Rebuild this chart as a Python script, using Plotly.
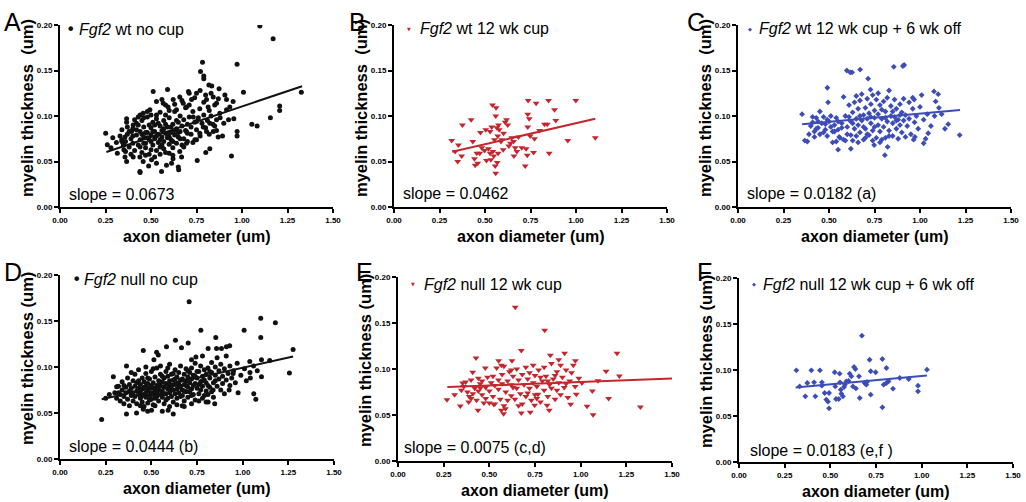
import plotly.graph_objects as go

# ---------------- data ----------------
x_ticks = [0, 0.25, 0.5, 0.75, 1.0, 1.25, 1.5]
x_tick_labels = ["0.00", "0.25", "0.50", "0.75", "1.00", "1.25", "1.50"]
y_ticks = [0, 0.05, 0.10, 0.15, 0.20]
y_tick_labels = ["0.00", "0.05", "0.10", "0.15", "0.20"]

panel_letters = ["A", "B", "C", "D", "E", "F"]
genotypes = ["wt", "wt", "wt", "null", "null", "null"]
conditions = ["no cup", "12 wk cup", "12 wk cup + 6 wk off",
              "no cup", "12 wk cup", "12 wk cup + 6 wk off"]
slopes = [0.0673, 0.0462, 0.0182, 0.0444, 0.0075, 0.0183]
slope_notes = ["", "", " (a)", " (b)", " (c,d)", " (e,f )"]
intercepts = [0.0432, 0.0459, 0.0844, 0.0548, 0.0783, 0.0753]
fit_x_start = [0.255, 0.32, 0.352, 0.228, 0.27, 0.31]
fit_x_end = [1.33, 1.106, 1.22, 1.276, 1.50, 1.029]

a_points = [
    (0.251, 0.081), (0.26, 0.0685), (0.315, 0.059), (1.098, 0.199), (1.171, 0.185), (0.973, 0.157),
    (0.783, 0.159), (0.772, 0.149), (0.79, 0.144), (0.79, 0.141), (0.591, 0.129), (0.512, 0.127),
    (0.706, 0.127), (1.008, 0.126), (1.326, 0.126), (0.71, 0.125), (0.818, 0.134), (0.834, 0.133),
    (0.874, 0.130), (1.207, 0.111), (1.207, 0.106), (1.156, 0.098), (0.955, 0.097), (0.926, 0.096),
    (1.054, 0.091), (1.083, 0.089), (0.973, 0.083), (0.973, 0.078), (0.893, 0.078), (0.942, 0.056),
    (0.754, 0.051), (0.65, 0.044), (0.652, 0.041), (0.439, 0.039), (0.558, 0.039), (0.487, 0.045),
    (0.44, 0.038), (0.801, 0.06), (0.823, 0.064), (0.869, 0.077), (0.842, 0.083), (0.951, 0.116),
    (0.915, 0.118), (0.906, 0.123), (0.842, 0.121), (0.86, 0.114), (0.805, 0.118), (0.814, 0.110),
    (0.768, 0.108), (0.732, 0.099), (0.75, 0.094), (0.787, 0.088), (0.823, 0.092), (0.86, 0.096),
    (0.878, 0.103), (0.915, 0.107), (0.933, 0.110), (0.805, 0.083), (0.85, 0.089), (0.768, 0.081),
    (0.695, 0.083), (0.741, 0.074), (0.695, 0.070), (0.658, 0.061), (0.668, 0.055), (0.613, 0.048),
    (0.585, 0.046), (0.621, 0.053), (0.53, 0.048), (0.503, 0.052), (0.457, 0.050), (0.439, 0.055),
    (0.402, 0.055), (0.366, 0.050), (0.357, 0.055), (0.351, 0.063), (0.348, 0.068), (0.339, 0.074),
    (0.357, 0.077), (0.366, 0.097), (0.366, 0.093), (0.402, 0.090), (0.393, 0.083), (0.43, 0.099),
    (0.457, 0.103), (0.494, 0.107), (0.53, 0.116), (0.567, 0.114), (0.594, 0.110), (0.622, 0.118),
    (0.658, 0.121), (0.677, 0.114), (0.64, 0.107), (0.695, 0.110), (0.723, 0.118), (0.75, 0.125),
    (0.36, 0.072), (0.37, 0.080), (0.38, 0.066), (0.39, 0.075), (0.40, 0.086), (0.40, 0.070),
    (0.41, 0.062), (0.42, 0.079), (0.42, 0.092), (0.43, 0.068), (0.44, 0.083), (0.44, 0.074),
    (0.45, 0.060), (0.45, 0.095), (0.46, 0.077), (0.46, 0.088), (0.47, 0.070), (0.47, 0.065),
    (0.48, 0.082), (0.48, 0.099), (0.49, 0.074), (0.49, 0.058), (0.50, 0.087), (0.50, 0.079),
    (0.51, 0.068), (0.51, 0.093), (0.52, 0.075), (0.52, 0.083), (0.53, 0.062), (0.53, 0.101),
    (0.54, 0.080), (0.54, 0.071), (0.55, 0.089), (0.55, 0.066), (0.56, 0.077), (0.56, 0.084),
    (0.57, 0.095), (0.57, 0.072), (0.58, 0.081), (0.58, 0.060), (0.59, 0.088), (0.59, 0.076),
    (0.60, 0.069), (0.60, 0.098), (0.61, 0.082), (0.61, 0.074), (0.62, 0.091), (0.62, 0.065),
    (0.63, 0.079), (0.63, 0.105), (0.64, 0.086), (0.64, 0.070), (0.65, 0.093), (0.65, 0.077),
    (0.66, 0.100), (0.66, 0.083), (0.67, 0.068), (0.67, 0.089), (0.68, 0.096), (0.68, 0.075),
    (0.69, 0.084), (0.69, 0.109), (0.70, 0.091), (0.70, 0.072), (0.71, 0.099), (0.72, 0.080),
    (0.72, 0.088), (0.73, 0.105), (0.74, 0.093), (0.75, 0.085), (0.76, 0.098), (0.77, 0.078),
    (0.78, 0.092), (0.79, 0.101), (0.80, 0.087), (0.81, 0.095), (0.82, 0.080), (0.83, 0.100),
    (0.84, 0.091), (0.86, 0.084), (0.88, 0.098), (0.90, 0.092), (0.33, 0.078), (0.34, 0.085),
    (0.35, 0.068), (0.38, 0.083), (0.39, 0.058), (0.41, 0.096), (0.43, 0.090), (0.44, 0.066),
    (0.46, 0.070), (0.47, 0.082), (0.48, 0.076), (0.50, 0.072), (0.52, 0.090), (0.53, 0.078),
    (0.55, 0.074), (0.56, 0.068), (0.57, 0.086), (0.58, 0.091), (0.59, 0.080), (0.60, 0.077),
    (0.61, 0.088), (0.62, 0.072), (0.63, 0.084), (0.64, 0.095), (0.65, 0.082), (0.66, 0.075),
    (0.54, 0.092), (0.51, 0.083), (0.49, 0.090), (0.45, 0.080), (0.42, 0.085), (0.40, 0.078),
    (0.37, 0.088), (0.36, 0.061), (0.34, 0.072), (0.31, 0.071), (0.29, 0.076), (0.28, 0.065),
    (0.55, 0.058), (0.57, 0.064), (0.60, 0.059), (0.62, 0.057), (0.52, 0.055), (0.50, 0.063),
    (0.47, 0.057), (0.70, 0.081), (0.68, 0.066), (0.73, 0.071), (0.75, 0.074), (0.71, 0.112),
    (0.74, 0.120), (0.67, 0.117), (0.63, 0.113), (0.60, 0.106), (0.58, 0.101), (0.55, 0.104),
    (0.53, 0.097), (0.50, 0.101), (0.48, 0.105), (0.46, 0.098), (0.44, 0.101), (0.58, 0.112),
    (0.56, 0.118), (0.79, 0.115), (0.82, 0.106), (0.85, 0.112), (0.87, 0.119), (0.77, 0.128),
    (0.80, 0.123), (0.83, 0.125),
]

b_points = [
    (0.317, 0.073), (0.354, 0.068), (0.336, 0.061), (0.350, 0.050), (0.372, 0.056), (0.376, 0.090),
    (0.424, 0.096), (0.433, 0.072), (0.442, 0.053), (0.446, 0.046), (0.455, 0.059), (0.460, 0.048),
    (0.471, 0.059), (0.475, 0.082), (0.482, 0.065), (0.497, 0.062), (0.504, 0.085), (0.508, 0.051),
    (0.519, 0.064), (0.528, 0.083), (0.528, 0.059), (0.532, 0.052), (0.537, 0.088), (0.541, 0.112),
    (0.543, 0.061), (0.548, 0.056), (0.552, 0.074), (0.556, 0.045), (0.559, 0.037), (0.561, 0.109),
    (0.559, 0.100), (0.565, 0.087), (0.567, 0.049), (0.570, 0.078), (0.572, 0.059), (0.574, 0.090),
    (0.578, 0.085), (0.592, 0.074), (0.600, 0.063), (0.611, 0.093), (0.618, 0.096), (0.625, 0.090),
    (0.631, 0.067), (0.647, 0.076), (0.657, 0.072), (0.659, 0.056), (0.666, 0.065), (0.675, 0.061),
    (0.702, 0.065), (0.721, 0.045), (0.726, 0.064), (0.732, 0.057), (0.735, 0.088), (0.735, 0.102),
    (0.737, 0.117), (0.743, 0.097), (0.748, 0.078), (0.767, 0.060), (0.772, 0.075), (0.781, 0.114),
    (0.800, 0.084), (0.827, 0.091), (0.842, 0.091), (0.849, 0.117), (0.853, 0.059), (0.882, 0.107),
    (0.889, 0.095), (0.955, 0.073), (0.999, 0.117), (1.106, 0.076), (0.602, 0.081), (0.684, 0.077),
    (0.588, 0.072), (0.640, 0.070),
]

c_points = [
    (0.352, 0.102), (0.367, 0.073), (0.381, 0.072), (0.491, 0.131), (0.495, 0.115), (0.550, 0.063),
    (0.556, 0.077), (0.598, 0.150), (0.616, 0.148), (0.627, 0.148), (0.671, 0.151), (0.715, 0.141),
    (0.728, 0.129), (0.856, 0.154), (0.906, 0.155), (0.913, 0.156), (0.807, 0.057), (0.822, 0.066),
    (0.748, 0.068), (0.620, 0.064), (1.020, 0.070), (1.031, 0.075), (1.045, 0.081), (1.077, 0.127),
    (1.100, 0.124), (1.086, 0.116), (1.104, 0.109), (1.119, 0.102), (1.137, 0.086), (1.155, 0.091),
    (1.218, 0.079), (1.009, 0.123), (0.968, 0.118), (0.972, 0.077), (0.965, 0.074),
    (0.40, 0.089), (0.41, 0.093), (0.42, 0.083), (0.43, 0.098), (0.44, 0.087), (0.45, 0.080),
    (0.46, 0.092), (0.47, 0.099), (0.48, 0.085), (0.49, 0.078), (0.50, 0.094), (0.51, 0.088),
    (0.52, 0.071), (0.53, 0.090), (0.54, 0.098), (0.55, 0.085), (0.56, 0.076), (0.57, 0.092),
    (0.58, 0.121), (0.59, 0.100), (0.60, 0.088), (0.61, 0.112), (0.62, 0.079), (0.62, 0.094),
    (0.63, 0.104), (0.63, 0.073), (0.64, 0.115), (0.64, 0.086), (0.65, 0.097), (0.65, 0.078),
    (0.66, 0.108), (0.66, 0.090), (0.67, 0.117), (0.67, 0.082), (0.68, 0.124), (0.68, 0.095),
    (0.69, 0.074), (0.69, 0.101), (0.70, 0.109), (0.70, 0.086), (0.71, 0.097), (0.71, 0.119),
    (0.72, 0.079), (0.72, 0.103), (0.73, 0.092), (0.73, 0.113), (0.74, 0.123), (0.74, 0.084),
    (0.75, 0.098), (0.75, 0.106), (0.76, 0.118), (0.76, 0.076), (0.77, 0.090), (0.77, 0.102),
    (0.78, 0.112), (0.78, 0.083), (0.79, 0.097), (0.79, 0.074), (0.80, 0.116), (0.80, 0.088),
    (0.81, 0.105), (0.81, 0.076), (0.82, 0.094), (0.82, 0.120), (0.83, 0.128), (0.83, 0.084),
    (0.84, 0.100), (0.84, 0.111), (0.85, 0.092), (0.85, 0.078), (0.86, 0.118), (0.86, 0.099),
    (0.87, 0.086), (0.87, 0.108), (0.88, 0.096), (0.88, 0.075), (0.89, 0.113), (0.89, 0.090),
    (0.90, 0.104), (0.90, 0.082), (0.91, 0.119), (0.91, 0.095), (0.92, 0.101), (0.93, 0.089),
    (0.94, 0.115), (0.94, 0.097), (0.95, 0.080), (0.96, 0.108), (0.97, 0.093), (0.98, 0.100),
    (0.99, 0.086), (1.00, 0.110), (1.02, 0.096), (1.04, 0.102), (1.06, 0.089), (1.08, 0.100),
    (0.96, 0.120), (0.92, 0.077), (0.39, 0.080), (0.41, 0.099), (0.43, 0.086), (0.45, 0.105),
    (0.47, 0.082), (0.49, 0.096), (0.51, 0.100), (0.53, 0.083), (0.55, 0.094), (0.57, 0.087),
    (0.59, 0.073), (0.61, 0.099), (0.63, 0.092), (0.65, 0.122), (0.67, 0.100), (0.69, 0.088),
    (0.71, 0.080), (0.73, 0.099), (0.75, 0.088), (0.77, 0.125), (0.79, 0.107), (0.81, 0.098),
    (0.83, 0.078), (0.85, 0.105), (0.87, 0.095), (0.89, 0.101), (0.58, 0.074), (0.60, 0.080),
    (0.54, 0.072), (0.66, 0.071), (0.70, 0.076), (0.74, 0.073), (0.78, 0.071), (0.48, 0.091),
    (0.44, 0.094), (0.42, 0.077), (0.52, 0.083),
]

d_points = [
    (0.228, 0.043), (0.292, 0.0895), (0.31, 0.0786), (0.364, 0.101), (0.364, 0.049), (0.456, 0.118),
    (0.514, 0.108), (0.529, 0.116), (0.538, 0.113), (0.583, 0.122), (0.632, 0.129), (0.665, 0.121),
    (0.702, 0.126), (0.707, 0.171), (0.771, 0.140), (0.853, 0.132), (1.008, 0.140), (1.099, 0.153),
    (1.099, 0.132), (1.179, 0.148), (1.276, 0.119), (1.256, 0.0935), (1.103, 0.0895), (1.072, 0.065),
    (1.061, 0.071), (1.042, 0.088), (0.975, 0.072), (0.948, 0.093), (1.039, 0.106), (1.103, 0.108),
    (1.148, 0.107), (0.929, 0.123), (0.911, 0.122), (0.884, 0.120), (0.857, 0.120), (0.811, 0.120),
    (0.78, 0.112), (0.744, 0.111), (0.72, 0.108), (0.669, 0.058), (0.62, 0.049), (0.592, 0.053),
    (0.501, 0.053), (0.456, 0.054), (0.419, 0.050), (0.847, 0.060), (0.811, 0.062), (0.926, 0.075),
    (0.838, 0.075),
    (0.30, 0.072), (0.31, 0.066), (0.32, 0.079), (0.33, 0.070), (0.33, 0.063), (0.34, 0.075),
    (0.34, 0.084), (0.35, 0.068), (0.35, 0.060), (0.36, 0.078), (0.36, 0.072), (0.37, 0.065),
    (0.37, 0.088), (0.38, 0.074), (0.38, 0.081), (0.38, 0.058), (0.39, 0.069), (0.39, 0.077),
    (0.40, 0.085), (0.40, 0.063), (0.40, 0.072), (0.41, 0.079), (0.41, 0.068), (0.41, 0.092),
    (0.42, 0.074), (0.42, 0.060), (0.42, 0.083), (0.43, 0.070), (0.43, 0.077), (0.43, 0.097),
    (0.44, 0.066), (0.44, 0.081), (0.44, 0.073), (0.45, 0.088), (0.45, 0.062), (0.45, 0.076),
    (0.46, 0.070), (0.46, 0.084), (0.46, 0.057), (0.47, 0.079), (0.47, 0.067), (0.47, 0.093),
    (0.48, 0.074), (0.48, 0.082), (0.48, 0.061), (0.49, 0.069), (0.49, 0.087), (0.49, 0.077),
    (0.50, 0.072), (0.50, 0.065), (0.50, 0.095), (0.50, 0.080), (0.51, 0.083), (0.51, 0.070),
    (0.51, 0.059), (0.52, 0.076), (0.52, 0.089), (0.52, 0.066), (0.53, 0.080), (0.53, 0.072),
    (0.53, 0.099), (0.54, 0.085), (0.54, 0.063), (0.54, 0.075), (0.55, 0.070), (0.55, 0.092),
    (0.55, 0.079), (0.56, 0.067), (0.56, 0.084), (0.56, 0.074), (0.57, 0.088), (0.57, 0.060),
    (0.57, 0.078), (0.58, 0.071), (0.58, 0.095), (0.58, 0.082), (0.59, 0.066), (0.59, 0.076),
    (0.59, 0.090), (0.60, 0.085), (0.60, 0.072), (0.60, 0.103), (0.61, 0.079), (0.61, 0.068),
    (0.61, 0.092), (0.62, 0.075), (0.62, 0.086), (0.62, 0.062), (0.63, 0.081), (0.63, 0.097),
    (0.63, 0.071), (0.64, 0.089), (0.64, 0.076), (0.64, 0.066), (0.65, 0.083), (0.65, 0.094),
    (0.65, 0.072), (0.66, 0.079), (0.66, 0.101), (0.66, 0.068), (0.67, 0.087), (0.67, 0.075),
    (0.68, 0.092), (0.68, 0.081), (0.68, 0.063), (0.69, 0.085), (0.69, 0.073), (0.69, 0.098),
    (0.70, 0.078), (0.70, 0.089), (0.70, 0.067), (0.71, 0.094), (0.71, 0.083), (0.72, 0.076),
    (0.72, 0.099), (0.72, 0.087), (0.73, 0.070), (0.73, 0.091), (0.74, 0.082), (0.74, 0.104),
    (0.74, 0.064), (0.75, 0.088), (0.75, 0.077), (0.76, 0.095), (0.76, 0.071), (0.77, 0.084),
    (0.77, 0.101), (0.78, 0.079), (0.78, 0.090), (0.78, 0.066), (0.79, 0.086), (0.79, 0.097),
    (0.80, 0.074), (0.80, 0.092), (0.80, 0.083), (0.81, 0.099), (0.81, 0.070), (0.82, 0.088),
    (0.82, 0.078), (0.83, 0.094), (0.83, 0.105), (0.84, 0.083), (0.84, 0.067), (0.85, 0.091),
    (0.85, 0.100), (0.86, 0.079), (0.86, 0.110), (0.87, 0.087), (0.87, 0.096), (0.88, 0.075),
    (0.88, 0.103), (0.89, 0.090), (0.89, 0.082), (0.90, 0.098), (0.90, 0.071), (0.91, 0.086),
    (0.91, 0.112), (0.92, 0.093), (0.93, 0.080), (0.93, 0.101), (0.94, 0.088), (0.95, 0.096),
    (0.96, 0.083), (0.97, 0.104), (0.99, 0.091), (1.01, 0.098), (1.02, 0.085), (1.04, 0.094),
    (1.06, 0.101), (1.08, 0.096), (0.45, 0.069), (0.47, 0.072), (0.49, 0.064), (0.51, 0.077),
    (0.53, 0.068), (0.55, 0.083), (0.57, 0.071), (0.59, 0.081), (0.61, 0.075), (0.63, 0.087),
    (0.65, 0.078), (0.67, 0.069), (0.69, 0.080), (0.71, 0.073), (0.73, 0.080), (0.75, 0.095),
    (0.77, 0.075), (0.79, 0.069), (0.81, 0.080), (0.83, 0.073), (0.85, 0.085), (0.43, 0.085),
    (0.46, 0.078), (0.48, 0.088), (0.52, 0.072), (0.54, 0.080), (0.56, 0.090), (0.58, 0.064),
    (0.60, 0.077), (0.62, 0.093), (0.64, 0.082), (0.66, 0.086), (0.68, 0.074), (0.70, 0.096),
    (0.72, 0.069), (0.74, 0.090), (0.76, 0.081), (0.78, 0.085), (0.80, 0.062), (0.82, 0.095),
    (0.39, 0.094), (0.44, 0.058), (0.48, 0.052), (0.52, 0.058), (0.56, 0.052), (0.60, 0.057),
    (0.64, 0.059), (0.68, 0.057), (0.72, 0.060), (0.76, 0.063), (0.47, 0.100), (0.51, 0.098),
    (0.55, 0.101), (0.59, 0.099), (0.35, 0.080), (0.32, 0.072), (0.27, 0.070), (0.25, 0.066),
]

e_points = [
    (0.268, 0.0667), (0.31, 0.0721), (0.341, 0.0598), (0.347, 0.0768), (0.354, 0.0848), (0.387, 0.0641),
    (0.409, 0.0964), (0.427, 0.112), (0.438, 0.0551), (0.451, 0.0793), (0.478, 0.101), (0.524, 0.0616),
    (0.551, 0.109), (0.566, 0.104), (0.566, 0.0551), (0.578, 0.0514), (0.588, 0.0569), (0.624, 0.109),
    (0.642, 0.167), (0.675, 0.120), (0.675, 0.0522), (0.724, 0.0529), (0.748, 0.0605), (0.766, 0.0725),
    (0.803, 0.142), (0.816, 0.0605), (0.828, 0.0551), (0.834, 0.115), (0.88, 0.110), (0.912, 0.117),
    (0.971, 0.109), (0.976, 0.0725), (0.945, 0.0616), (1.007, 0.0848), (1.035, 0.0594), (1.064, 0.0761),
    (1.068, 0.0504), (1.095, 0.0873), (1.139, 0.0975), (1.153, 0.0678), (1.199, 0.117), (1.212, 0.0924),
    (1.327, 0.0587),
    (0.36, 0.081), (0.37, 0.086), (0.38, 0.075), (0.39, 0.070), (0.40, 0.088), (0.41, 0.073),
    (0.42, 0.079), (0.43, 0.066), (0.44, 0.090), (0.45, 0.084), (0.46, 0.072), (0.46, 0.087),
    (0.47, 0.063), (0.48, 0.080), (0.49, 0.091), (0.50, 0.076), (0.50, 0.063), (0.51, 0.085),
    (0.52, 0.092), (0.53, 0.082), (0.54, 0.101), (0.55, 0.078), (0.55, 0.088), (0.56, 0.067),
    (0.57, 0.094), (0.57, 0.084), (0.58, 0.060), (0.59, 0.075), (0.60, 0.087), (0.60, 0.066),
    (0.61, 0.097), (0.62, 0.071), (0.62, 0.083), (0.63, 0.092), (0.64, 0.067), (0.65, 0.079),
    (0.65, 0.100), (0.66, 0.088), (0.67, 0.073), (0.68, 0.094), (0.68, 0.062), (0.69, 0.083),
    (0.70, 0.102), (0.70, 0.070), (0.71, 0.089), (0.72, 0.079), (0.72, 0.096), (0.73, 0.066),
    (0.74, 0.085), (0.75, 0.072), (0.75, 0.093), (0.76, 0.081), (0.77, 0.099), (0.78, 0.064),
    (0.79, 0.087), (0.80, 0.077), (0.80, 0.102), (0.81, 0.092), (0.82, 0.070), (0.83, 0.083),
    (0.84, 0.106), (0.84, 0.079), (0.85, 0.089), (0.86, 0.067), (0.87, 0.097), (0.87, 0.077),
    (0.88, 0.085), (0.89, 0.104), (0.89, 0.072), (0.90, 0.091), (0.91, 0.080), (0.92, 0.099),
    (0.93, 0.069), (0.94, 0.087), (0.95, 0.096), (0.96, 0.104), (0.97, 0.081), (0.99, 0.090),
    (0.44, 0.076), (0.52, 0.070), (0.58, 0.103), (0.63, 0.080), (0.66, 0.060), (0.74, 0.104),
    (0.78, 0.091), (0.86, 0.093), (0.53, 0.062), (0.48, 0.068), (0.40, 0.068), (0.62, 0.099),
    (0.71, 0.074), (0.76, 0.068), (0.82, 0.087), (0.92, 0.084),
]

f_points = [
    (0.314, 0.0996), (0.332, 0.0822), (0.363, 0.0714), (0.374, 0.0859), (0.396, 0.0996), (0.411, 0.0866),
    (0.418, 0.0714), (0.443, 0.0996), (0.454, 0.0866), (0.454, 0.083), (0.469, 0.075), (0.478, 0.0678),
    (0.487, 0.0656), (0.493, 0.0583), (0.493, 0.075), (0.524, 0.0975), (0.527, 0.0822), (0.531, 0.0685),
    (0.546, 0.0685), (0.551, 0.096), (0.553, 0.0866), (0.557, 0.0786), (0.56, 0.0743), (0.569, 0.0714),
    (0.575, 0.0815), (0.58, 0.0841), (0.588, 0.0877), (0.606, 0.096), (0.615, 0.0931), (0.624, 0.0822),
    (0.63, 0.1033), (0.637, 0.1011), (0.657, 0.0931), (0.661, 0.0696), (0.673, 0.1373), (0.688, 0.0859),
    (0.697, 0.0841), (0.715, 0.1112), (0.721, 0.0986), (0.721, 0.0732), (0.748, 0.0975), (0.785, 0.112),
    (0.785, 0.0594), (0.792, 0.0841), (0.807, 0.1022), (0.807, 0.0859), (0.819, 0.0877), (0.843, 0.0797),
    (0.88, 0.0913), (0.929, 0.0902), (0.980, 0.083), (0.980, 0.0768), (1.029, 0.1004), (0.60, 0.088),
    (0.64, 0.080), (0.70, 0.087),
]

all_points = [a_points, b_points, c_points, d_points, e_points, f_points]

# ---------------- styling / layout ----------------
BLACK = "#111111"
RED = "#c4262e"
BLUE = "#3d4db7"
colors = [BLACK, RED, BLUE, BLACK, RED, BLUE]
symbols = ["circle", "triangle-down", "diamond", "circle", "triangle-down", "diamond"]
msizes = [5, 6, 4.5, 5, 6, 4.5]
legend_glyphs = ["\u2022", "\u25BC", "\u25C6", "\u2022", "\u25BC", "\u25C6"]
legend_glyph_sizes = [16, 5, 5, 16, 5, 5]
FONT = "Liberation Sans, Arial, Helvetica, sans-serif"

W, H = 1026, 502
# plot areas in pixels: (left, right, top, bottom)
boxes = [(60, 333, 25, 207), (394, 667, 25, 207), (738, 1011, 25, 207),
         (60, 334, 275, 459), (398, 672, 277, 461), (739, 1013, 278, 462)]
letter_pos = [(12, 22), (357, 22), (696, 22), (13, 272), (364, 272), (704, 272)]
legend_marker_dx = [10, 15, 12, 16, 15, 15]
legend_text_dx = [17, 24, 19, 22, 24, 22]
legend_dy = [5, 4, 4, 4, 7, 6]
slope_dx = [7, 7, 7, 7, 4, 9]
slope_dy = [13, 14, 14, 13, 14, 12]


def px(x):
    return x / W


def py(y):
    return 1 - y / H


fig = go.Figure()
layout_axes = {}
annotations = []

for i in range(6):
    n = i + 1
    xname = "x" if n == 1 else f"x{n}"
    yname = "y" if n == 1 else f"y{n}"
    xkey = "xaxis" if n == 1 else f"xaxis{n}"
    ykey = "yaxis" if n == 1 else f"yaxis{n}"
    l, r, t, b = boxes[i]
    axis_common = dict(showline=True, linecolor="black", linewidth=2, ticks="outside",
                       ticklen=4, tickwidth=2, tickcolor="black", showgrid=False,
                       zeroline=False, fixedrange=True, automargin=False,
                       tickfont=dict(family=FONT, size=8, color="black", weight="bold"))
    layout_axes[xkey] = dict(domain=[px(l), px(r)], anchor=yname, range=[0, 1.5],
                             tickmode="array", tickvals=x_ticks, ticktext=x_tick_labels,
                             **axis_common)
    layout_axes[ykey] = dict(domain=[py(b), py(t)], anchor=xname, range=[0, 0.2],
                             tickmode="array", tickvals=y_ticks, ticktext=y_tick_labels,
                             **axis_common)

    pts = all_points[i]
    xs = [p[0] for p in pts]
    ys = [p[1] for p in pts]
    fig.add_trace(go.Scatter(x=xs, y=ys, mode="markers", xaxis=xname, yaxis=yname,
                             marker=dict(symbol=symbols[i], size=msizes[i], color=colors[i],
                                         line=dict(width=0)),
                             showlegend=False, hoverinfo="skip"))
    lx = [fit_x_start[i], fit_x_end[i]]
    ly = [intercepts[i] + slopes[i] * v for v in lx]
    fig.add_trace(go.Scatter(x=lx, y=ly, mode="lines", xaxis=xname, yaxis=yname,
                             line=dict(color=colors[i], width=2),
                             showlegend=False, hoverinfo="skip"))

    top_row = i < 3
    # panel letter
    annotations.append(dict(text=panel_letters[i], x=px(letter_pos[i][0]), y=py(letter_pos[i][1]),
                            xref="paper", yref="paper", showarrow=False,
                            xanchor="center", yanchor="middle",
                            font=dict(family=FONT, size=25, color="black")))
    # legend glyph + text
    annotations.append(dict(text=legend_glyphs[i], x=px(l + legend_marker_dx[i]),
                            y=py(t + legend_dy[i]),
                            xref="paper", yref="paper", showarrow=False,
                            xanchor="center", yanchor="middle",
                            font=dict(family="DejaVu Sans, " + FONT, size=legend_glyph_sizes[i],
                                      color=colors[i])))
    annotations.append(dict(text=f"<i>Fgf2</i> {genotypes[i]} {conditions[i]}",
                            x=px(l + legend_text_dx[i]), y=py(t + legend_dy[i]),
                            xref="paper", yref="paper", showarrow=False,
                            xanchor="left", yanchor="middle",
                            font=dict(family=FONT, size=16, color="black")))
    # slope text
    annotations.append(dict(text=f"slope = {slopes[i]:.4f}{slope_notes[i]}",
                            x=px(l + slope_dx[i]), y=py(b - slope_dy[i]),
                            xref="paper", yref="paper", showarrow=False,
                            xanchor="left", yanchor="middle",
                            font=dict(family=FONT, size=16, color="black")))
    # axis titles
    ytitle = "myelin thickness\u00a0\u00a0(um)" if top_row else "myelin thickness (um)"
    annotations.append(dict(text=ytitle, x=px(l - 33), y=py((t + b) / 2 - 8),
                            xref="paper", yref="paper", showarrow=False, textangle=-90,
                            xanchor="center", yanchor="middle",
                            font=dict(family=FONT, size=16.5, color="black", weight="bold")))
    annotations.append(dict(text="axon diameter (um)", x=px((l + r) / 2), y=py(b + 29),
                            xref="paper", yref="paper", showarrow=False,
                            xanchor="center", yanchor="middle",
                            font=dict(family=FONT, size=16, color="black", weight="bold")))

fig.update_layout(template="none", width=W, height=H, margin=dict(l=0, r=0, t=0, b=0, pad=0),
                  autosize=False, paper_bgcolor="white", plot_bgcolor="white",
                  annotations=annotations, showlegend=False, **layout_axes)

fig.write_html("out.html", config={"displayModeBar": False, "staticPlot": True},
               post_script="document.body.style.margin='0';document.body.style.padding='0';")
